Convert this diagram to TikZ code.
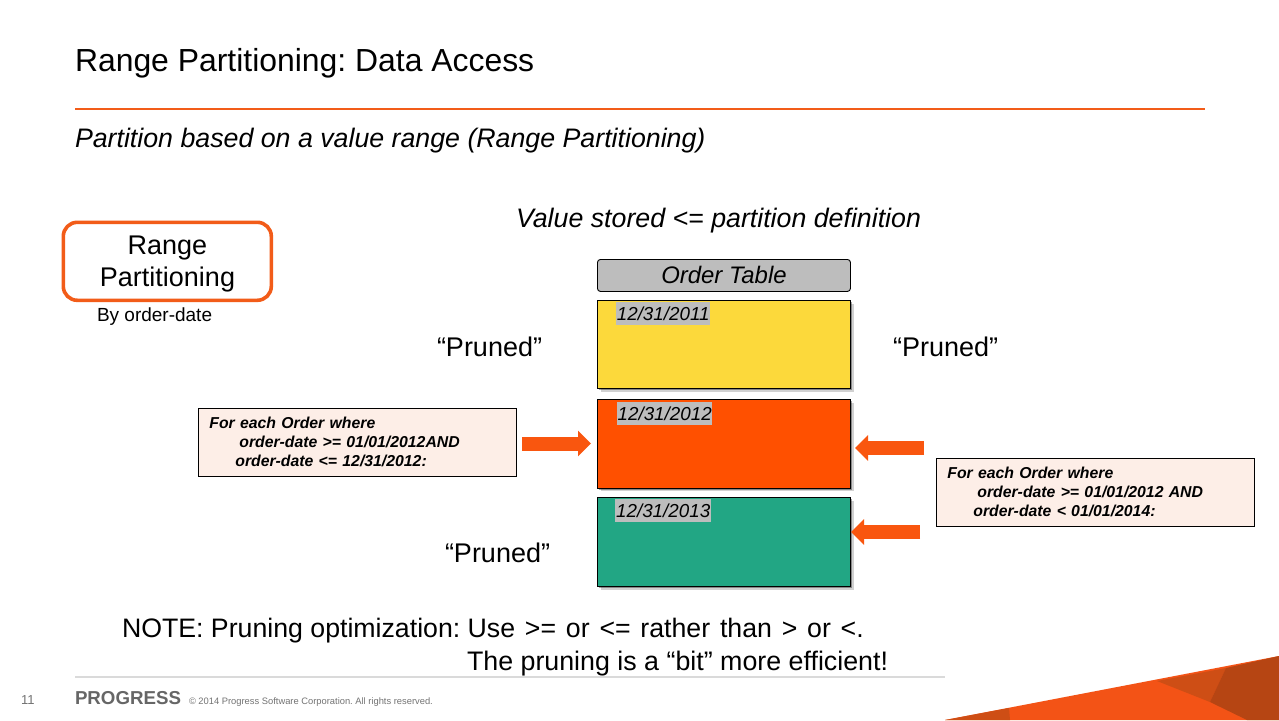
\documentclass[tikz,border=0pt]{standalone}
\usepackage{fontspec}
\setmainfont{Liberation Sans}
\frenchspacing
\usetikzlibrary{arrows.meta,calc}
\definecolor{porange}{HTML}{F25C19}
\definecolor{arrorange}{HTML}{F9560F}
\definecolor{boxorange}{HTML}{FF5000}
\definecolor{boxyellow}{HTML}{FCD93B}
\definecolor{boxgreen}{HTML}{22A684}
\definecolor{hdrgray}{HTML}{BDBDBD}
\definecolor{callfill}{HTML}{FDEEE7}
\definecolor{footgray}{HTML}{DADADA}
\tikzset{
  txt/.style={anchor=base west,inner sep=0pt,outer sep=0pt},
  f26/.style={font=\fontsize{27}{32}\selectfont},
  f26i/.style={font=\fontsize{26.75}{32}\selectfont\itshape},
  softshadow/.style={
    preaction={draw=none,fill=black,opacity=.18,transform canvas={shift={(3.2pt,-3.2pt)}}},
    preaction={draw=none,fill=black,opacity=.35,transform canvas={shift={(2pt,-2pt)}}}},
  tblbox/.style={draw=black,line width=0.9pt,minimum width=253pt,anchor=north west,inner sep=0pt,softshadow},
  datelab/.style={fill=hdrgray,anchor=north west,inner sep=0pt,minimum height=23pt,
    font=\fontsize{18.8}{20}\selectfont\itshape},
  callout/.style={draw=black,line width=0.7pt,fill=callfill,anchor=north west,minimum height=68pt,
    text width=295.5pt,inner xsep=11pt,inner ysep=0pt,align=left,
    font=\fontsize{15.8}{19}\selectfont\bfseries\itshape},
  blockarrow/.style={draw=arrorange,line width=14pt,
    -{Triangle[length=13pt,width=25pt,fill=arrorange]}},
}
\begin{document}
\begin{tikzpicture}[x=1pt,y=-1pt]
\useasboundingbox (0,0) rectangle (1279,720);
\fill[white] (0,0) rectangle (1279,720);
% title block
\node[txt,font=\fontsize{31.9}{36}\selectfont] (title) at (75,71) {Range Partitioning: Data Access};
\coordinate (ruleL) at (75,109);
\coordinate (ruleR) at (1205,109);
\draw[porange,line width=2.4pt] (ruleL) -- (ruleR);
\node[txt,f26i] (sub) at (75,147) {Partition based on a value range (Range Partitioning)};
\node[txt,f26i] (val) at (516,227) {Value stored <= partition definition};
% range box
\node[draw=porange,line width=3.6pt,rounded corners=14pt,minimum width=208pt,minimum height=78pt,
  anchor=north west,inner sep=0pt] (range) at (61.5,220.5) {};
\node[align=center,inner sep=0pt,f26] (rangetxt) at (167.5,264.5) {Range\\Partitioning};
\node[txt,font=\fontsize{19}{21}\selectfont] (by) at (97,321.5) {By order-date};
% table
\node[draw=black,line width=0.9pt,fill=hdrgray,rounded corners=3pt,minimum width=253pt,minimum height=32pt,
  anchor=north west,inner sep=0pt,font=\fontsize{23.9}{26}\selectfont\itshape] (hdr) at (597,259) {Order Table};
\node[tblbox,fill=boxyellow,minimum height=88pt] (y) at (597,300) {};
\node[tblbox,fill=boxorange,minimum height=88.5pt] (o) at (597,399) {};
\node[tblbox,fill=boxgreen,minimum height=89pt] (g) at (597,497) {};
\node[datelab,minimum width=94pt] (d1) at (616,302) {12/31/2011};
\node[datelab,minimum width=95pt] (d2) at (617,402) {12/31/2012};
\node[datelab,minimum width=96pt] (d3) at (615,499) {12/31/2013};
% pruned
\node[txt,f26] (p1) at (437,356.5) {“Pruned”};
\node[txt,f26] (p2) at (893,356) {“Pruned”};
\node[txt,f26] (p3) at (445,562) {“Pruned”};
% callouts
\node[callout] (cl) at (198,408) {For each Order where\\\hspace*{30pt}order-date >= 01/01/2012AND\\\hspace*{26pt}order-date <= 12/31/2012:};
\node[callout] (cr) at (936,457.5) {For each Order where\\\hspace*{30pt}order-date >= 01/01/2012 AND\\\hspace*{26pt}order-date < 01/01/2014:};
% arrows
\coordinate (a1s) at (522,443.5); \coordinate (a1e) at (591,443.5);
\coordinate (a2s) at (924,448); \coordinate (a2e) at (855,448);
\coordinate (a3s) at (920,532); \coordinate (a3e) at (851,532);
\draw[blockarrow] (a1s) -- (a1e);
\draw[blockarrow] (a2s) -- (a2e);
\draw[blockarrow] (a3s) -- (a3e);
% note
\node[txt,font=\fontsize{26.7}{32}\selectfont] (n1) at (122,637) {NOTE: Pruning optimization: {\spaceskip=9.8pt Use >= or <= rather than > or <.}};
\node[txt,font=\fontsize{26.8}{32}\selectfont] (n2) at (467,670) {The pruning is a “bit” more efficient!};
% footer
\coordinate (fL) at (75,677);
\coordinate (fR) at (945,677);
\draw[footgray,line width=2.5pt] (fL) -- (fR);
\node[txt,font=\fontsize{13}{15}\selectfont,text=black!55] (pg) at (21,704) {11};
\node[txt,font=\fontsize{18.7}{21}\selectfont\bfseries,text=black!60] (logo) at (75,704.5) {PROGRESS};
\node[txt,font=\fontsize{9.35}{11}\selectfont,text=black!55] (copy) at (189,704.5) {© 2014 Progress Software Corporation. All rights reserved.};
% corner graphic
\fill[porange!90!red] (945,720) -- (1279,656) -- (1279,720) -- cycle;
\fill[black!15!porange] (945,720) -- (1009,708) -- (1010,720) -- cycle;
\fill[black!15!porange] (1157,681) -- (1226,668) -- (1210,702) -- cycle;
\fill[black!25!porange] (1226,668) -- (1279,656) -- (1279,720) -- (1247,720) -- (1210,702) -- cycle;
\end{tikzpicture}
\end{document}
